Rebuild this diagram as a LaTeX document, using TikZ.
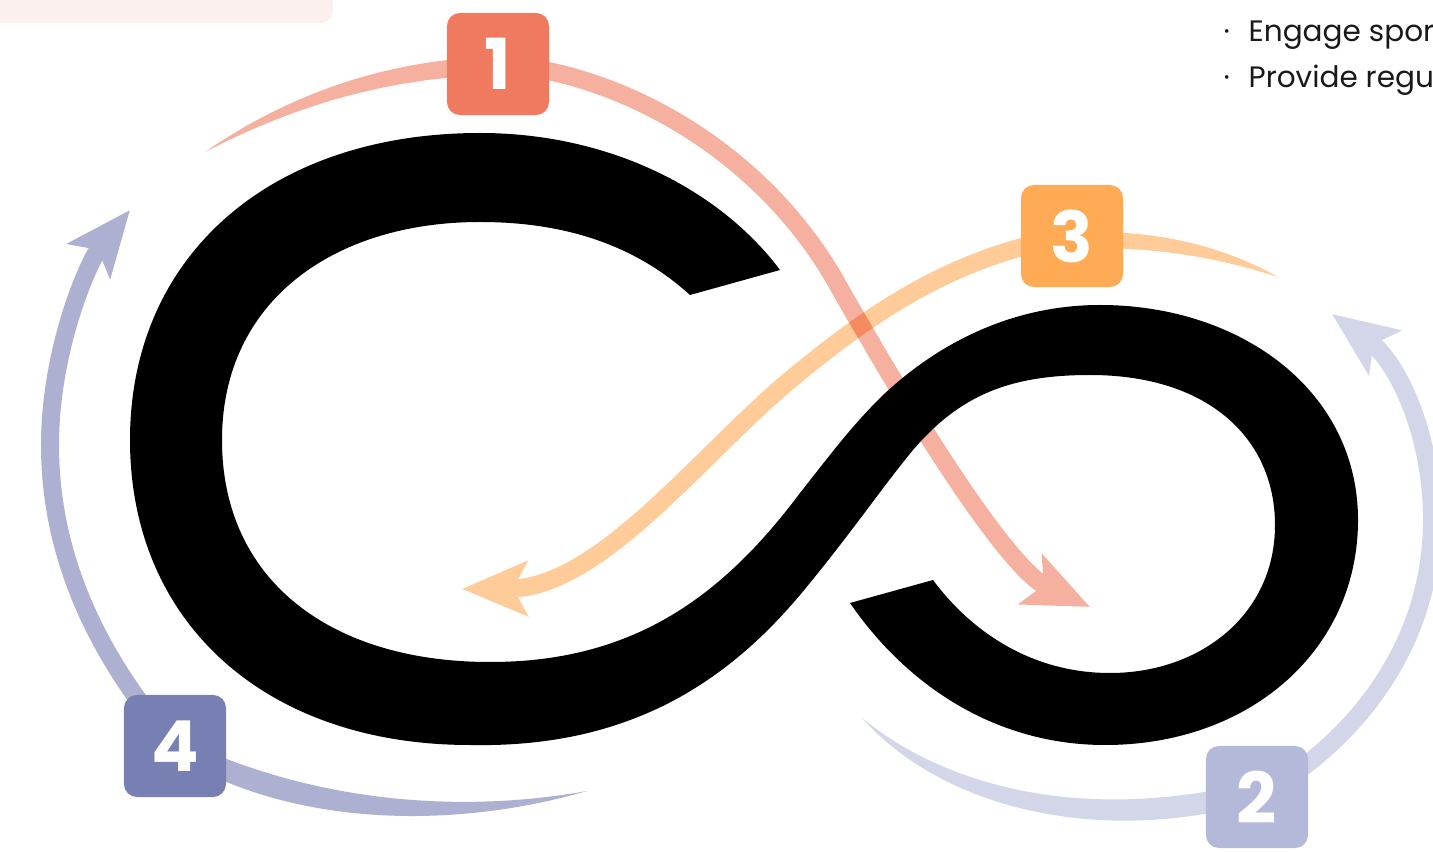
\documentclass[tikz,border=0pt]{standalone}
\usepackage{fontspec}
\setmainfont{Poppins}
\newfontfamily\badgefont{Poppins}
\usetikzlibrary{arrows.meta,positioning}

\definecolor{coralA}{HTML}{F07A60}
\definecolor{coralB}{HTML}{F5B0A0}
\definecolor{amberA}{HTML}{FFAA55}
\definecolor{amberB}{HTML}{FFCB98}
\definecolor{slateA}{HTML}{7880B3}
\definecolor{slateB}{HTML}{ADB0D0}
\definecolor{mistA}{HTML}{B5B9D9}
\definecolor{mistB}{HTML}{D3D6E8}
\definecolor{blush}{HTML}{FCF0EE}

% centre lines of the two crossing swooshes
\newcommand\swooshA{(c1) .. controls (620,72) and (760,150) .. (835,280) .. controls (880,360) and (1000,565) .. (tip1)}
\newcommand\swooshC{(c3) .. controls (960,255) and (880,305) .. (790,380) .. controls (700,455) and (600,588) .. (tip3)}

\begin{document}
\begin{tikzpicture}[
  x=0.01cm, y=-0.01cm,
  >=Stealth,
  badge/.style={rounded corners=1.3mm,minimum width=1.02cm,minimum height=1.02cm,inner sep=0pt,
    text=white,font=\badgefont\bfseries\fontsize{20}{20}\selectfont},
  band/.style={line width=1.8mm},
  tipped/.style={-{Stealth[length=6.5mm,width=5.4mm,inset=1.4mm]}},
  item/.style={anchor=base west,inner sep=0pt,text=black!90,font=\fontsize{8.4}{10}\selectfont}
]
\useasboundingbox (0,0) rectangle (1433,852);

% Card corner and list text cut by the frame.
\fill[blush,rounded corners=1.2mm] (-40,-40) rectangle (333,23);
\node[item] (item1) at (1223,42) {\makebox[2.5mm][l]{·}Engage spor};
\node[item] (item2) at (1223,88) {\makebox[2.5mm][l]{·}Provide regu};

% Badge centres and free ends of the swooshes.
\coordinate (c1) at (498,64);
\coordinate (c2) at (1257,797);
\coordinate (c3) at (1072,236);
\coordinate (c4) at (175,746);
\coordinate (tail1) at (205,152);
\coordinate (tail2) at (862,718);
\coordinate (tail3) at (1278,277);
\coordinate (tail4) at (587,791);
\coordinate (tip1) at (1090,607);
\coordinate (tip2) at (1332,314);
\coordinate (tip3) at (462,589);
\coordinate (tip4) at (130,210);

% Steps 1 and 3.
\fill[coralB] (tail1) .. controls (280,100) and (370,65) .. (470,58) -- (470,76)
  .. controls (375,82) and (290,108) .. (tail1) -- cycle;
\draw[band,coralB,tipped] \swooshA;
\fill[amberB] (1095,232) .. controls (1170,232) and (1230,250) .. (tail3)
  .. controls (1220,258) and (1160,248) .. (1095,248) -- cycle;
\draw[band,amberB,tipped] \swooshC;

% overlap of 1 and 3 is multiplied
\begin{scope}
  \clip (857,322) circle[radius=30];
  \fill[white] (857,322) circle[radius=30];
  \draw[band,amberB] \swooshC;
  \begin{scope}[blend mode=multiply]
    \draw[band,coralB] \swooshA;
  \end{scope}
\end{scope}

% Steps 2 and 4.
\fill[mistB] (tail2) .. controls (950,790) and (1080,815) .. (1215,790) -- (1215,812)
  .. controls (1080,838) and (940,805) .. (tail2) -- cycle;
\draw[band,mistB,tipped] (c2) .. controls (1360,740) and (1432,640) .. (1432,520)
  .. controls (1432,430) and (1395,360) .. (tip2);
\fill[slateB] (200,748) .. controls (330,805) and (470,812) .. (tail4)
  .. controls (470,825) and (320,830) .. (200,770) -- cycle;
\draw[band,slateB,tipped] (c4) .. controls (100,660) and (50,560) .. (50,445)
  .. controls (50,350) and (88,262) .. (tip4);

% The loop glyph.
\fill[black] (780,270) .. controls (720,190) and (610,133) .. (480,133)
  .. controls (270,133) and (130,256) .. (130,440)
  .. controls (130,623) and (266,745) .. (470,745)
  .. controls (620,748) and (720,690) .. (800,595)
  .. controls (850,535) and (880,490) .. (913,450)
  .. controls (960,395) and (1010,375) .. (1090,375)
  .. controls (1210,375) and (1275,440) .. (1275,525)
  .. controls (1275,615) and (1200,673) .. (1110,673)
  .. controls (1030,673) and (970,630) .. (933,580)
  -- (850,603)
  .. controls (910,690) and (1000,745) .. (1105,745)
  .. controls (1250,745) and (1358,650) .. (1358,520)
  .. controls (1358,390) and (1240,305) .. (1100,305)
  .. controls (1010,305) and (935,345) .. (880,398)
  .. controls (850,428) and (830,455) .. (800,493)
  .. controls (720,600) and (630,662) .. (490,662)
  .. controls (330,662) and (222,580) .. (222,440)
  .. controls (222,300) and (335,222) .. (480,222)
  .. controls (565,222) and (635,245) .. (690,295) -- cycle;

% Numbered badges.
\node[badge,fill=coralA] (b1) at (c1) {1};
\node[badge,fill=mistA] (b2) at (c2) {2};
\node[badge,fill=amberA] (b3) at (c3) {3};
\node[badge,fill=slateA] (b4) at (c4) {4};
\end{tikzpicture}
\end{document}
